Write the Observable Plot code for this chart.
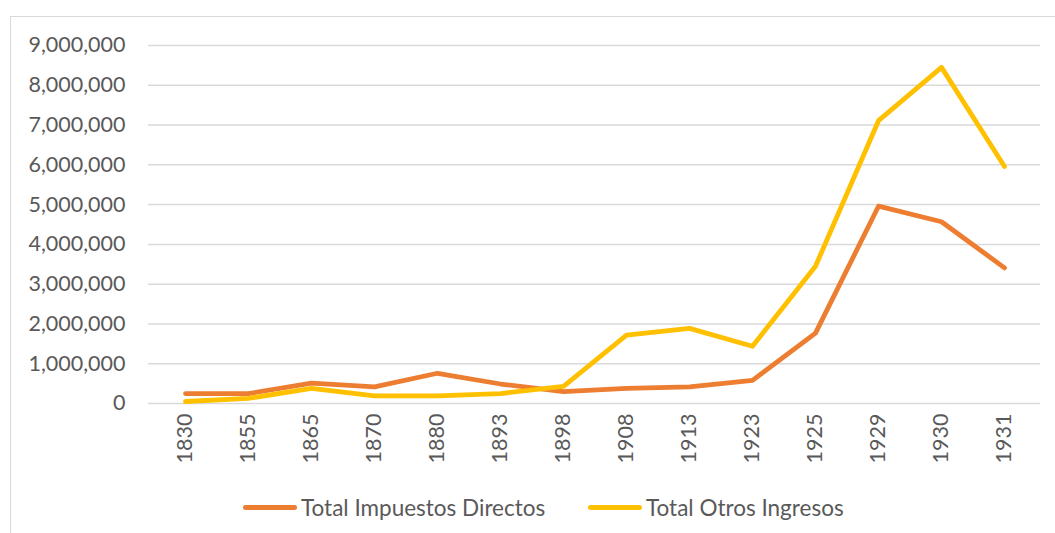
<!DOCTYPE html>
<html>
<head>
<meta charset="utf-8">
<script src="https://cdn.jsdelivr.net/npm/d3@7"></script>
<script src="https://cdn.jsdelivr.net/npm/@observablehq/plot@0.6"></script>
<style>
  html, body { margin: 0; padding: 0; background: #fff; overflow: hidden; }
  #frame { position: absolute; left: 10px; top: 16px; width: 1060px; height: 540px;
           border: 1px solid #d9d9d9; box-sizing: border-box; }
  #chart { position: absolute; left: 0; top: 0; }
  #legend { position: absolute; top: 477px; left: 0; width: 1045px; height: 26px;
            font-family: Lato, "Open Sans", sans-serif; font-size: 22.5px; color: #595959; }
  .item { position: absolute; top: 0; display: flex; align-items: center; height: 26px; }
  .sw { width: 54px; height: 5px; border-radius: 3px; margin-right: 4px; }
  svg text { font-family: Lato, "Open Sans", sans-serif; }
</style>
</head>
<body>
<div id="frame">
  <div id="chart"></div>
  <div id="legend"></div>
</div>
<script>
const years = ["1830","1855","1865","1870","1880","1893","1898","1908","1913","1923","1925","1929","1930","1931"];
const seriesNames = ["Total Impuestos Directos", "Total Otros Ingresos"];
const seriesColors = ["#ED7D31", "#FFC000"];
const impuestosDirectos = [250000, 250000, 510000, 420000, 760000, 490000, 300000, 380000, 420000, 580000, 1770000, 4960000, 4570000, 3410000];
const otrosIngresos = [50000, 130000, 380000, 190000, 190000, 250000, 430000, 1720000, 1890000, 1440000, 3450000, 7110000, 8450000, 5960000];
const yTicks = [0, 1000000, 2000000, 3000000, 4000000, 5000000, 6000000, 7000000, 8000000, 9000000];

const data = [];
years.forEach((y, i) => {
  data.push({year: y, value: impuestosDirectos[i], series: seriesNames[0]});
  data.push({year: y, value: otrosIngresos[i], series: seriesNames[1]});
});

const chart = Plot.plot({
  width: 1045,
  height: 453,
  marginLeft: 137,
  marginRight: 16,
  marginTop: 28,
  marginBottom: 67,
  style: {fontFamily: "Lato, 'Open Sans', sans-serif", fontSize: "21.5px", color: "#595959", background: "transparent"},
  x: {type: "point", domain: years, padding: 0.477, label: null},
  y: {domain: [0, 9000000], label: null},
  color: {domain: seriesNames, range: seriesColors},
  marks: [
    Plot.gridY(yTicks, {stroke: "#d9d9d9", strokeOpacity: 1, strokeWidth: 1.5}),
    Plot.axisY(yTicks, {tickSize: 0, tickPadding: 23, tickFormat: d3.format(","), fill: "#595959", fontSize: 21.5}),
    Plot.axisX(years, {tickSize: 0, tickPadding: 10, tickRotate: -90, fill: "#595959", fontSize: 21.5}),
    Plot.line(data, {x: "year", y: "value", stroke: "series", z: "series", strokeWidth: 4.8,
                     strokeLinecap: "round", strokeLinejoin: "round"})
  ]
});
document.getElementById("chart").appendChild(chart);

const legend = document.getElementById("legend");
const legendLeft = [232, 577];
seriesNames.forEach((name, i) => {
  const item = document.createElement("div");
  item.className = "item";
  item.style.left = legendLeft[i] + "px";
  const sw = document.createElement("div");
  sw.className = "sw";
  sw.style.background = seriesColors[i];
  const t = document.createElement("span");
  t.textContent = name;
  item.appendChild(sw);
  item.appendChild(t);
  legend.appendChild(item);
});
</script>
</body>
</html>
